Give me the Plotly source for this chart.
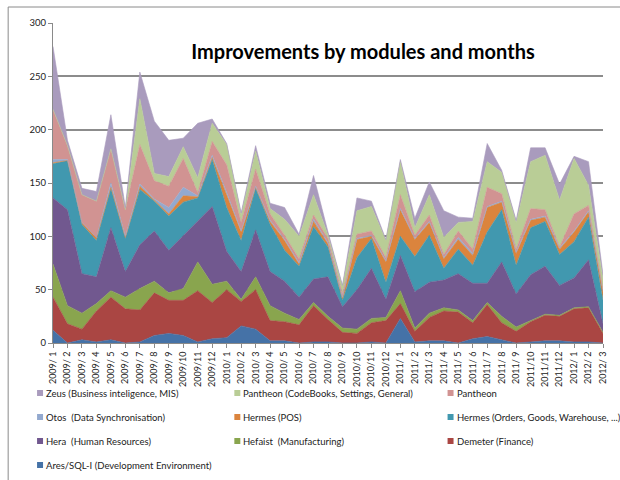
import plotly.graph_objects as go

# Months on the category axis
months = [
    "2009/ 1", "2009/ 2", "2009/ 3", "2009/ 4", "2009/ 5", "2009/ 6",
    "2009/ 7", "2009/ 8", "2009/ 9", "2009/10", "2009/11", "2009/12",
    "2010/ 1", "2010/ 2", "2010/ 3", "2010/ 4", "2010/ 5", "2010/ 6",
    "2010/ 7", "2010/ 8", "2010/ 9", "2010/10", "2010/11", "2010/12",
    "2011/ 1", "2011/ 2", "2011/ 3", "2011/ 4", "2011/ 5", "2011/ 6",
    "2011/ 7", "2011/ 8", "2011/ 9", "2011/10", "2011/11", "2011/12",
    "2012/ 1", "2012/ 2", "2012/ 3",
]

# Improvements per module and month (stack order: bottom to top)
ares = [12, 0, 3, 1, 3, 0, 1, 7, 9, 7, 1, 4, 5, 16, 13, 2, 2, 0, 1, 1,
        0, 0, 1, 0, 23, 1, 2, 2, 0, 4, 6, 3, 0, 1, 2, 2, 1, 1, 0]
demeter = [31, 18, 10, 29, 40, 32, 30, 40, 31, 33, 48, 34, 45, 23, 37, 19, 18, 17, 34, 21,
           10, 9, 18, 21, 14, 10, 22, 28, 29, 15, 30, 16, 11, 19, 24, 23, 31, 32, 9]
hefaist = [31, 17, 15, 7, 6, 11, 20, 11, 7, 11, 27, 17, 8, 2, 12, 14, 8, 5, 3, 3,
           4, 4, 4, 3, 12, 3, 4, 3, 2, 2, 2, 6, 4, 1, 1, 1, 1, 1, 1]
hera = [62, 90, 37, 25, 59, 24, 41, 47, 40, 50, 38, 73, 28, 26, 44, 32, 30, 21, 22, 37,
        20, 37, 47, 17, 33, 34, 29, 26, 34, 35, 18, 51, 31, 43, 45, 28, 28, 44, 8]
hermes_orders = [32, 46, 46, 34, 37, 31, 52, 28, 32, 31, 22, 44, 41, 29, 39, 44, 29, 29, 49, 28,
                 6, 30, 28, 16, 18, 33, 44, 11, 23, 17, 48, 49, 27, 44, 42, 29, 34, 40, 22]
hermes_pos = [1, 0, 2, 3, 1, 1, 3, 1, 2, 6, 1, 2, 12, 8, 1, 3, 9, 2, 5, 3,
              2, 17, 2, 19, 25, 16, 12, 9, 9, 9, 23, 7, 11, 7, 4, 5, 9, 5, 8]
otos = [3, 1, 0, 0, 4, 1, 2, 1, 6, 8, 1, 2, 2, 1, 1, 1, 1, 1, 2, 1,
        1, 1, 1, 1, 1, 1, 1, 1, 2, 2, 1, 1, 1, 1, 1, 1, 1, 1, 1]
pantheon = [47, 13, 26, 34, 32, 25, 37, 17, 20, 27, 3, 13, 26, 8, 16, 6, 4, 4, 4, 4,
            3, 4, 4, 3, 13, 3, 6, 3, 6, 4, 18, 7, 3, 10, 6, 1, 16, 5, 1]
pantheon_cb = [0, 0, 0, 0, 0, 0, 43, 7, 9, 11, 14, 17, 19, 7, 17, 5, 15, 21, 19, 3,
               7, 22, 23, 16, 31, 7, 19, 16, 8, 26, 24, 20, 25, 44, 51, 44, 52, 19, 10]
zeus = [59, 5, 6, 9, 32, 2, 25, 49, 34, 8, 51, 4, 1, 2, 5, 5, 11, 2, 18, 3,
        1, 12, 5, 1, 2, 9, 12, 25, 5, 3, 17, 2, 2, 13, 7, 15, 2, 22, 4]

series = [
    ("Ares/SQL-I (Development Environment)", ares, "#4572A7"),
    ("Demeter (Finance)", demeter, "#AA4643"),
    ("Hefaist  (Manufacturing)", hefaist, "#89A54E"),
    ("Hera  (Human Resources)", hera, "#71588F"),
    ("Hermes (Orders, Goods, Warehouse, ...)", hermes_orders, "#4198AF"),
    ("Hermes (POS)", hermes_pos, "#DB843D"),
    ("Otos  (Data Synchronisation)", otos, "#93A9CF"),
    ("Pantheon", pantheon, "#D19392"),
    ("Pantheon (CodeBooks, Settings, General)", pantheon_cb, "#B9CD96"),
    ("Zeus (Business inteligence, MIS)", zeus, "#A99BBD"),
]

FONT = "Lato, Carlito, 'Liberation Sans', sans-serif"
W, H = 620, 480
PL, PR, PT, PB = 53, 605, 23, 343  # plot area in pixels


def px_x(x):
    return (x - PL) / (PR - PL)


def px_y(y):
    return (PB - y) / (PB - PT)


fig = go.Figure()
for name, values, color in series:
    fig.add_trace(go.Scatter(
        x=months, y=values, name=name, mode="lines",
        stackgroup="modules", fillcolor=color,
        line=dict(color=color, width=0.6),
        showlegend=False,
    ))

shapes = []
annotations = []

# Chart-area border
shapes.append(dict(type="rect", xref="paper", yref="paper",
                   x0=px_x(8), x1=px_x(660), y0=px_y(520), y1=px_y(7),
                   line=dict(color="#8a8a8a", width=1), fillcolor="rgba(0,0,0,0)",
                   layer="below"))

# Legend: three columns, top series first
col_x = [40, 238, 452]
row_y = [393, 417, 441, 465]
for k, (name, _, color) in enumerate(reversed(series)):
    cx = col_x[k % 3]
    cy = row_y[k // 3]
    shapes.append(dict(type="rect", xref="paper", yref="paper",
                       x0=px_x(cx - 3), x1=px_x(cx + 3),
                       y0=px_y(cy + 3), y1=px_y(cy - 3),
                       line=dict(width=0), fillcolor=color))
    annotations.append(dict(text=name, xref="paper", yref="paper",
                            x=px_x(cx + 4), y=px_y(cy), xanchor="left", yanchor="middle",
                            showarrow=False, font=dict(family=FONT, size=9.5, color="#222")))

fig.update_layout(
    width=W, height=H,
    margin=dict(l=PL, r=W - PR, t=PT, b=H - PB),
    paper_bgcolor="white", plot_bgcolor="white",
    font=dict(family=FONT, size=9, color="#222"),
    title=dict(text="Improvements by modules and months",
               x=363 / W, y=1 - 52 / H, xref="container", yref="container",
               xanchor="center", yanchor="middle",
               font=dict(family=FONT, size=20, color="#000", weight=700)),
    showlegend=False,
    shapes=shapes,
    annotations=annotations,
    xaxis=dict(type="category", range=[0, len(months) - 1],
               tickmode="array", tickvals=months, ticktext=months,
               tickangle=-90, tickfont=dict(family=FONT, size=9, color="#222"),
               showgrid=False, showline=True, linecolor="#8a8a8a", linewidth=1,
               ticks="outside", ticklen=4, tickcolor="#8a8a8a", zeroline=False),
    yaxis=dict(range=[0, 300], dtick=50, tickfont=dict(family=FONT, size=9.5, color="#222"),
               showgrid=True, gridcolor="#8c8c8c", gridwidth=1.5,
               showline=True, linecolor="#8a8a8a", linewidth=1,
               ticks="outside", ticklen=4, tickcolor="#8a8a8a", zeroline=False),
)

fig.write_html("out.html")
